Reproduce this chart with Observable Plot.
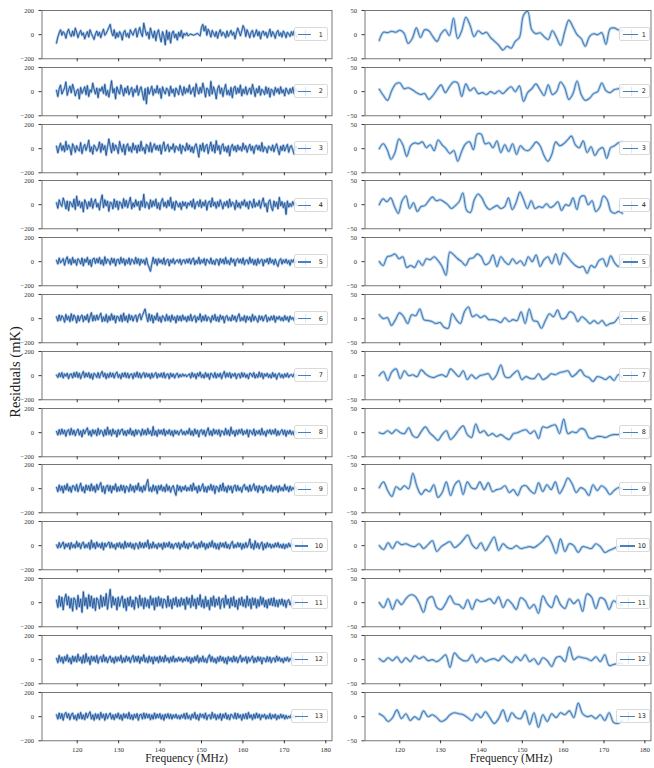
<!DOCTYPE html>
<html><head><meta charset="utf-8">
<script src="https://cdn.jsdelivr.net/npm/d3@7"></script>
<script src="https://cdn.jsdelivr.net/npm/@observablehq/plot@0.6"></script>
<style>
body{margin:0;background:#fff;}
#c{position:relative;width:654px;height:768px;overflow:hidden;font-family:"Liberation Serif","DejaVu Serif",serif;background:#fff;}
.pan{position:absolute;}
.leg{position:absolute;border:1px solid #dadada;border-radius:2px;background:rgba(255,255,255,0.85);box-sizing:border-box;}
.leg .ln{position:absolute;height:1.2px;}
.leg .eb{position:absolute;width:0.7px;background:#dde8f4;}
.leg .nm{position:absolute;font-family:"DejaVu Sans",sans-serif;font-size:6.5px;color:#222;}
.ttl{position:absolute;color:#222;white-space:nowrap;}
</style></head><body><div id="c"></div><script>
// ---- axis ticks and labels ----
const xTicks = [120, 130, 140, 150, 160, 170, 180];
const leftYTicks = [-200, 0, 200];
const rightYTicks = [-50, 0, 50];
const runLabels = ["1","2","3","4","5","6","7","8","9","10","11","12","13"];
const freqStart = 115, freqEndLeft = 173, freqEndRight = 174.5;

// ---- left column residuals (mK), full resolution ----
const left1 = [-70,-20,15,40,-5,25,10,-30,20,45,5,-15,30,-10,55,20,-25,10,35,-5,
15,-35,0,25,-20,40,10,-15,-40,5,30,-10,20,-25,15,45,-5,10,35,60,
85,20,-10,40,-30,15,-20,25,5,-45,20,35,-15,10,-25,40,15,-5,30,50,
-20,25,60,10,-15,95,40,-5,20,-35,55,10,-25,30,-50,15,40,-20,-60,25,
-10,-85,35,-40,20,-70,10,30,-25,5,-45,20,-15,35,-30,10,-5,15,-10,0,
5,0,-5,0,5,10,0,-10,60,85,30,70,-5,45,20,-20,35,10,-15,25,
-30,15,40,-10,20,5,-25,30,-15,10,35,-5,20,-35,15,55,25,-10,30,75,
50,-15,40,10,-25,20,35,-20,5,40,-10,25,-35,15,30,-5,20,-25,10,45,
-15,25,5,-30,20,35,-10,15,-20,30,10,-25,20,5,-15,25,-5,30,10,-20];
const left2 = [10,-40,25,55,-20,5,30,80,-30,15,45,-10,60,20,-35,5,20,-60,35,-15,
10,40,-25,50,-40,15,-5,70,20,-20,30,-50,25,5,40,-15,60,-30,10,-45,
20,90,-10,25,-60,40,5,-20,55,15,-35,30,-10,45,-25,10,35,-40,20,-5,
50,-30,15,40,-15,-70,25,-100,35,-20,10,45,-30,20,-10,50,-15,25,-55,40,
5,-20,30,15,-35,45,-10,20,-40,30,5,-25,50,10,-30,40,-15,25,-5,55,
-20,10,35,-40,65,15,-20,35,-10,70,20,-45,30,15,-35,85,-20,40,5,-60,
25,50,-15,30,-40,20,60,-25,10,-30,35,-50,25,45,-20,30,-10,55,-35,20,
-15,40,-25,10,30,-20,60,15,-40,25,-10,45,-30,20,5,-25,40,-15,30,-45,
20,10,-30,35,-5,25,-20,40,-10,15,-35,30,5,-20,25,-10,35,-15,20,5];
const left3 = [20,-35,10,45,-15,25,-25,60,-10,30,5,-50,40,15,-30,25,-5,-20,50,-40,
10,35,-15,20,70,-25,15,-45,30,10,-20,5,55,-30,40,-10,25,-55,15,80,
20,-35,45,-15,30,5,-40,60,10,-25,35,-50,20,40,-20,15,-30,45,-10,25,
-35,30,-20,60,-15,10,-40,35,20,-25,50,-30,15,40,-10,25,-15,30,-45,20,
55,-20,10,35,-25,15,-5,40,-30,20,10,-15,35,-40,25,5,-20,45,-10,30,
-25,15,-35,20,40,-10,-70,30,-15,45,-25,20,35,-40,10,55,-20,30,-35,65,
-10,25,-45,20,40,-20,15,-30,25,-60,10,35,-15,20,-25,30,-10,15,-20,45,
-5,25,-30,10,35,-15,20,-40,15,30,-10,25,-20,50,-25,15,5,-35,20,10,
-15,30,-25,15,40,-10,-50,20,-15,30,-20,10,35,-30,15,25,-10,-45,20,5];
const left4 = [15,-30,40,5,-15,55,20,-35,30,-50,25,10,-20,45,-40,70,-10,30,-25,20,
-60,40,15,-35,25,-15,50,-30,20,45,-20,10,-45,35,80,-25,40,-10,30,-55,
20,15,-35,45,-20,30,-40,25,10,-30,50,-15,35,-25,20,60,-35,15,-20,40,
-10,25,-45,30,-15,85,-25,20,10,-35,40,-20,30,-10,45,-30,15,-40,25,50,
-15,20,-25,35,-10,60,-30,20,-45,30,5,-20,15,-40,25,-10,20,-30,15,-5,
30,-20,45,-35,10,25,-15,40,-25,20,-10,35,-45,15,30,-20,55,-10,20,-30,
25,-15,40,5,-35,20,-10,30,-25,45,-15,20,10,-40,35,-20,15,-30,25,-5,
40,-15,20,-35,30,10,-25,45,-20,15,-10,35,-30,20,55,-15,10,-60,25,40,
-20,-50,30,-15,20,-35,60,-10,25,-25,15,-80,30,-20,10,-15,25,-5,15,-10];
const left5 = [10,-20,30,-10,5,25,-30,15,40,-15,20,-25,35,-10,15,-30,25,10,-20,30,
-35,20,-5,35,-25,15,-40,20,30,-15,25,-10,35,-20,15,-30,40,-15,20,10,
-25,30,-10,25,-35,15,20,-20,35,-10,25,-30,15,-15,30,-25,20,10,-20,35,
-15,25,-30,20,-10,15,-25,30,-20,-50,-80,-20,35,-15,20,-30,25,-10,15,-20,
30,-25,10,20,-35,15,-10,25,-20,5,15,-10,20,-25,10,15,-15,20,-10,25,
-20,15,30,-25,10,-15,35,-20,15,-10,25,-30,20,5,-15,30,-20,10,-25,20,
15,-30,25,-10,20,-20,35,-15,10,-25,30,-5,20,-35,15,25,-10,20,-15,30,
-25,10,15,-20,35,-10,20,-25,15,-30,25,-15,10,20,-35,15,-5,25,-20,30,
-10,15,-25,20,-15,-40,10,25,-20,15,-10,20,-15,10,-30,15,-5,20,-10,5];
const left6 = [15,-20,30,-15,25,10,-30,35,-10,20,-25,40,-15,30,10,-35,25,-20,15,30,
-25,20,-10,35,-30,15,50,-20,25,-15,30,-10,20,45,-25,15,-20,35,-30,20,
-15,40,-10,25,-35,20,15,-20,30,-25,45,-15,20,-30,35,-10,25,-20,15,30,
-25,20,40,-10,25,55,80,20,-25,40,-15,30,-35,20,-10,45,-20,15,-30,25,
10,-20,35,-15,20,-25,30,-10,15,-35,25,-15,20,-20,30,-10,15,-25,20,-15,
35,-20,10,25,-30,15,-10,40,-25,20,-15,30,-20,15,5,-30,25,-10,35,-20,
15,-25,30,-5,20,-35,15,25,-15,10,-20,30,-10,20,-25,15,40,-20,10,-15,
25,-30,20,-10,15,-25,35,-15,20,-5,-30,25,-10,20,-20,15,30,-25,10,-15,
20,-10,25,-30,15,-5,20,-15,10,-20,25,-10,15,-25,20,-5,10,-15,5,-5];
const left7 = [5,-15,20,-10,25,-20,15,-5,20,-25,10,15,-20,25,-10,30,-15,20,-25,10,
35,-15,20,-10,25,-20,15,-30,20,10,-15,25,-20,15,35,-10,20,-25,15,-15,
25,-10,20,-20,15,30,-15,10,-25,20,-10,25,-15,20,-20,10,15,-25,20,-10,
30,-15,20,-20,10,25,-15,20,-10,15,-25,20,-15,10,25,-20,15,-10,20,-15,
25,-20,10,15,-25,20,-10,15,-20,10,20,-15,10,-10,15,-5,10,-10,5,15,
-20,25,-10,15,-25,20,-5,30,-15,10,-20,25,-10,15,-30,20,10,-15,25,-20,
15,-10,20,-25,10,35,-15,20,-10,25,-20,15,-5,20,-25,10,15,-20,25,-10,
20,-15,10,-25,20,15,-10,25,-20,10,-15,30,-10,20,-25,15,-5,20,-15,10,
-20,25,-10,15,-30,10,20,-15,10,-20,15,-10,20,-15,5,10,-10,15,-5,0];
const left8 = [10,-20,25,-15,30,-10,20,-30,15,25,-20,35,-15,20,-25,10,30,-20,15,-35,
25,-10,20,40,-20,15,-30,25,-10,20,-25,35,-15,20,10,-30,25,-20,45,-15,
20,-25,30,-10,15,-35,25,-15,20,30,-20,15,-25,20,-10,35,-20,15,-30,25,
-15,20,10,-25,30,-15,20,-20,35,-10,15,-25,50,-20,15,-30,25,-10,20,-15,
30,-25,15,-10,25,-20,15,-30,20,-10,15,-20,10,25,-15,10,-20,15,-10,35,
-20,15,-25,30,-10,20,-35,15,25,-15,20,-30,10,40,-20,15,-25,30,-10,20,
-15,25,-30,15,10,-20,35,-15,20,-25,45,-10,15,-30,20,-15,25,-5,30,-20,
15,-10,25,-35,20,10,-15,30,-25,15,-10,20,-20,35,-15,10,-30,20,-5,25,
-15,20,-10,30,-25,15,-20,10,25,-15,20,-30,15,-10,20,-15,10,-20,15,-5];
const left9 = [10,-25,30,-15,20,-35,25,-10,40,-20,15,-30,25,20,-15,35,-25,10,45,-20,
15,-35,30,-10,25,-20,40,-15,20,-30,35,-10,25,50,-25,20,-40,15,30,-20,
25,-35,20,-10,40,-25,15,-20,30,-15,25,-35,20,10,-25,35,-15,20,-30,25,
-10,45,-20,15,-30,25,-15,40,75,-20,10,-25,30,-15,20,-40,25,-10,30,-20,
15,-25,35,-15,20,-30,10,25,-20,-55,30,-15,20,-25,15,-10,25,-20,10,-15,
30,-20,45,-10,15,-35,25,-20,10,40,-25,15,-30,20,-10,35,-15,25,-40,20,
10,-25,30,-15,45,-20,15,-30,25,-10,20,-35,15,30,-20,25,-15,10,-30,20,
35,-10,15,-25,30,-20,10,40,-15,20,-30,25,-10,15,-35,20,25,-15,10,-20,
30,-25,15,-10,20,-30,25,-15,10,-20,35,-10,15,-25,20,-15,10,-5,15,-10];
const left10 = [5,-20,25,-15,10,30,-25,15,-10,20,-30,25,-15,10,-20,35,-10,20,-25,15,
30,-20,10,-15,25,-30,45,-15,20,-25,30,-10,15,-20,25,-35,20,-10,15,30,
-20,25,-15,10,-30,20,-10,25,-20,15,-25,35,-15,20,-10,25,-20,15,-30,20,
10,-25,30,-15,20,-20,25,-10,45,-25,15,-20,30,-15,10,-25,20,-10,15,-30,
25,-15,20,-10,30,-20,15,-25,10,20,-15,25,-30,15,-10,35,-20,15,-25,20,
-10,15,30,-20,10,-25,20,-15,35,-10,20,-30,15,-20,25,-10,40,-15,20,-25,
15,-30,25,-10,20,-15,30,-20,10,-25,15,35,-20,10,-15,25,-10,20,-30,15,
-20,25,-15,10,55,-20,15,-30,40,-15,20,-25,10,30,-35,15,-20,25,-10,15,
-20,10,-15,20,-10,25,-15,10,-20,15,-25,10,-15,20,-10,15,-5,10,-10,5];
const left11 = [20,-40,55,-30,45,-60,30,70,-20,50,-45,35,-70,40,20,-55,60,-35,30,-80,
90,-25,40,-50,65,-30,55,-45,35,-65,40,20,-50,60,-35,45,-25,75,-55,30,
110,-40,50,-20,35,-60,45,-30,25,55,-40,30,-65,40,-25,50,-35,20,-55,45,
30,-40,60,-25,35,-50,40,-30,25,-45,55,-20,35,-60,40,-30,50,-25,35,-45,
30,20,-40,55,-30,25,-50,35,-20,45,-35,25,-30,40,-20,30,-55,45,-15,35,
-40,60,-25,30,-50,40,-20,65,-35,25,-45,50,-30,20,-60,40,-25,55,-35,30,
-20,45,-50,25,35,-40,60,-15,30,-45,40,-25,50,-35,20,-55,35,-20,45,-30,
25,-40,55,-25,30,-50,40,-20,35,-45,25,-30,50,-15,40,-35,20,-45,30,-20,
35,-25,40,-30,20,-35,25,-15,30,-25,20,-40,15,25,-20,10,-25,15,-10,5];
const left12 = [10,-25,35,-15,20,-30,25,-10,40,-20,15,-35,30,-15,25,-20,45,-10,20,-30,
35,-25,50,-15,20,-40,30,-10,25,-20,35,-30,15,25,-20,40,-15,20,-25,10,
30,-20,15,-30,25,-15,20,-10,35,-25,15,-20,30,-10,20,-25,15,35,-20,25,
-15,30,-30,20,-10,40,-20,15,-25,30,-15,20,-35,25,-10,20,-25,30,-15,20,
-20,35,-10,15,-25,20,-15,30,-20,10,-15,20,-10,15,-20,10,-10,25,-15,20,
-30,15,-20,25,-10,35,-25,15,-15,30,-20,10,-25,20,40,-15,25,-20,10,-30,
20,-15,30,-10,20,-25,15,-35,25,-10,15,-20,30,-15,20,-25,10,35,-20,15,
-10,25,-30,20,-15,10,30,-25,15,-20,25,-10,20,-35,15,10,-20,25,-15,20,
-25,10,15,-20,30,-10,20,-15,10,-25,15,-10,20,-15,10,-5,15,-10,5,0];
const left13 = [15,-20,30,-15,25,-30,20,35,-10,25,-25,15,30,-20,10,-30,25,-15,35,-20,
15,-25,30,-10,20,40,-20,15,-30,25,-15,20,-25,35,-10,20,-30,25,-15,10,
30,-20,15,-25,20,-10,30,-20,15,-30,25,-10,20,-15,35,-20,15,-25,20,-10,
25,-30,15,20,-20,30,-15,25,-10,20,-25,15,-20,30,-15,20,-10,25,-20,15,
-30,20,-10,25,-15,20,-20,15,-10,20,-15,10,-20,15,-10,25,-20,30,-15,10,
-25,20,-10,35,-20,15,-30,25,-5,20,-15,30,-25,10,15,-20,35,-10,20,-25,
15,-15,25,-30,20,-10,30,-20,15,-25,20,10,-15,30,-20,25,-10,15,-30,20,
-15,25,-20,35,-10,15,-25,20,-15,30,-10,20,-25,15,-5,20,-20,10,-15,25,
-20,15,-10,20,-25,10,-15,20,-10,15,-20,10,-15,5,-10,15,-5,10,-10,5];

// ---- right column residuals (mK), smoothed ----
const right1 = [-12,5,4,7,5,9,3,-18,-8,14,-6,10,8,-4,-14,2,10,-2,34,-8,8,36,20,-4,8,2,5,-6,-14,-22,-32,-24,-28,-14,-6,40,48,10,2,4,-4,-10,8,-6,-22,6,30,16,0,-8,-24,-4,2,0,4,-20,12,14,10,8];
const right2 = [5,-8,-18,2,16,18,6,8,4,-2,-6,-4,-16,-8,4,14,-2,10,20,18,-10,16,2,8,-4,-2,-6,0,-4,2,-4,4,10,0,12,-20,-2,6,16,4,-8,14,-6,0,20,8,-16,-4,22,-6,-18,-14,-4,0,18,2,-2,4,6,8];
const right3 = [0,10,-2,-22,-8,20,8,-16,6,12,10,14,2,8,-4,18,8,0,-10,-4,-26,-6,10,14,-2,30,30,10,12,2,16,-8,8,-6,10,-12,6,-2,-4,4,14,6,-14,-26,-12,14,6,10,18,26,8,2,16,-8,4,-14,-2,2,-20,2,6,12,14];
const right4 = [0,12,6,14,-4,-18,8,18,-8,4,-14,-4,-2,8,16,8,10,6,0,-8,-2,6,24,-12,-16,10,22,14,-2,-10,-6,-2,-8,-4,14,-10,4,26,10,-8,8,-8,-4,-6,2,-6,-2,6,-12,0,-2,14,-10,16,18,0,8,-14,-6,18,10,-14,-18,-14,-18];
const right5 = [0,-8,10,12,16,6,10,-12,-8,-12,2,-8,6,4,10,2,-10,-28,20,14,6,0,-8,6,8,16,10,-6,-2,14,-10,10,0,-6,6,-4,2,-8,10,0,14,-10,4,10,-4,16,-6,18,10,0,-8,-12,-10,-24,-8,-12,2,6,-10,12,-2,-10,6];
const right6 = [8,0,2,-14,-2,12,4,-10,8,6,20,-2,-4,-6,-10,-8,-18,-20,10,-2,-10,14,24,4,8,2,6,-2,-2,-4,-8,2,-6,-2,-4,14,-10,20,-4,-6,-20,-4,10,4,18,0,2,14,10,-6,4,-2,-10,-4,-10,-4,-14,-10,-8,2,6];
const right7 = [0,8,-10,8,14,-6,10,0,2,-2,12,4,-2,-4,0,2,-2,14,6,-2,10,-8,2,-6,0,2,4,-8,2,22,-2,-4,4,10,-8,-2,-6,-6,4,-8,-4,4,2,6,8,10,-2,4,12,0,-4,-12,-2,-4,-8,-2,-10,2,-4];
const right8 = [0,-2,4,-2,6,0,-2,10,-6,-10,2,12,0,-8,-16,-4,4,-14,-6,6,14,-4,-10,18,0,4,-6,-2,-8,-4,-10,-14,-2,0,4,6,-2,4,-12,12,10,14,16,-2,28,-2,2,0,8,6,-10,-12,-8,-8,-10,-6,-4,-4,0];
const right9 = [2,14,-4,-16,4,-2,6,0,32,4,-12,-2,-6,8,-18,-8,14,-14,8,16,-12,14,2,0,14,-2,12,-6,-2,0,6,-8,-2,-14,4,6,-4,-10,12,-6,8,-2,14,-10,4,22,10,-8,2,-2,-14,8,-4,6,0,-12,-4,2,0];
const right10 = [0,-8,6,-6,8,2,4,0,-2,4,-6,2,10,-12,-2,4,8,-4,2,12,22,2,-6,6,-10,4,18,-10,4,-4,-6,0,-6,-4,-2,-4,2,10,20,6,-16,14,-12,4,0,-14,-2,-4,-6,4,-2,-14,-10,-6,-2,0];
const right11 = [0,-10,8,-14,6,-4,8,16,14,0,-20,8,12,-10,-14,-2,14,-2,-4,-12,6,-14,6,2,4,8,-2,12,-10,6,-2,-14,10,4,-12,-4,-22,14,-2,-10,14,-4,-12,8,-2,6,-18,18,12,-12,10,6,-14,4,-2,-6];
const right12 = [2,-4,4,-2,6,-6,4,-4,8,2,6,-2,0,-4,2,10,-16,14,4,-2,-2,10,-6,4,-4,0,2,-2,8,0,-6,6,-2,10,-4,2,-10,4,-2,-14,4,6,-4,26,0,6,4,2,-2,6,-4,10,-12,-10,-8,-8];
const right13 = [6,0,-10,-2,14,-4,6,-8,0,-6,12,0,4,-2,-10,-6,4,8,6,4,-2,-8,6,-2,10,-2,-14,-4,14,-10,8,-2,-4,12,-16,8,-22,4,-10,6,-2,8,4,12,-2,28,6,0,2,-4,4,-8,8,-12,-14,-8];

const leftSeries = [left1,left2,left3,left4,left5,left6,left7,left8,left9,left10,left11,left12,left13];
const rightSeries = [right1,right2,right3,right4,right5,right6,right7,right8,right9,right10,right11,right12,right13];

// ---- layout ----
const root = document.getElementById("c");
const top0 = 10, pitch = 56.8, PH = 48.3, MT = 6, MB = 16;
const fmt = d => d < 0 ? "\u2212" + Math.abs(d) : String(d);
const cols = [
  {svgLeft: 0, width: 334, ml: 41.5, mr: 2.5, domain: [-200, 200], ticks: leftYTicks, series: leftSeries,
   xEnd: freqEndLeft, stroke: "#1f4d8c", halo: "#9fc1e6", sw: 0.85, hw: 2.4, curve: "linear",
   legStroke: "#4a7fc0", legLeft: 294, legW: 34, lineW: 13, numRight: 4},
  {svgLeft: 330, width: 324, ml: 34.5, mr: 3.5, domain: [-50, 50], ticks: rightYTicks, series: rightSeries,
   xEnd: freqEndRight, stroke: "#4a80b8", halo: "#bcd6ee", sw: 1.1, hw: 3, curve: "catmull-rom",
   legStroke: "#4a80b8", legLeft: 619, legW: 31, lineW: 15, numRight: 3}
];

cols.forEach((col, ci) => {
  col.series.forEach((vals, ri) => {
    const n = vals.length;
    const data = vals.map((v, i) => ({x: freqStart + i * (col.xEnd - freqStart) / (n - 1), y: v}));
    const last = ri === 12;
    const plot = Plot.plot({
      width: col.width, height: MT + PH + MB,
      marginLeft: col.ml, marginRight: col.mr, marginTop: MT, marginBottom: MB,
      style: {background: "transparent", overflow: "visible", fontFamily: "'Liberation Serif','DejaVu Serif',serif", color: "#333"},
      x: {domain: [111.5, 181.5]},
      y: {domain: col.domain},
      marks: [
        Plot.line(data, {x: "x", y: "y", stroke: col.halo, strokeWidth: col.hw, curve: col.curve, clip: true}),
        Plot.line(data, {x: "x", y: "y", stroke: col.stroke, strokeWidth: col.sw, curve: col.curve, clip: true}),
        Plot.frame({stroke: "#555", strokeWidth: 0.8}),
        Plot.axisY({ticks: col.ticks, tickSize: 3, tickPadding: 5, tickFormat: fmt, fontSize: 6.5, label: null}),
        Plot.axisX({ticks: xTicks, tickSize: 3, tickPadding: 3, tickFormat: last ? fmt : () => "", fontSize: 7, label: null})
      ]
    });
    const wrap = document.createElement("div");
    wrap.className = "pan";
    wrap.style.left = col.svgLeft + "px";
    wrap.style.top = (top0 + ri * pitch - MT) + "px";
    wrap.appendChild(plot);
    root.appendChild(wrap);

    // legend
    const cy = top0 + ri * pitch + PH / 2;
    const leg = document.createElement("div");
    leg.className = "leg";
    const extra = (runLabels[ri].length > 1) ? 3 : 0;
    leg.style.left = (col.legLeft - extra) + "px";
    leg.style.width = (col.legW + extra) + "px";
    leg.style.top = (cy - 7) + "px";
    leg.style.height = "14px";
    const eb = document.createElement("div");
    eb.className = "eb"; eb.style.left = (3 + col.lineW / 2) + "px"; eb.style.top = "2px"; eb.style.height = "9px";
    const ln = document.createElement("div");
    ln.className = "ln"; ln.style.left = "3px"; ln.style.width = col.lineW + "px"; ln.style.top = "6px";
    ln.style.background = col.legStroke;
    const nm = document.createElement("div");
    nm.className = "nm"; nm.textContent = runLabels[ri];
    nm.style.right = col.numRight + "px"; nm.style.top = "2.5px";
    leg.appendChild(eb); leg.appendChild(ln); leg.appendChild(nm);
    root.appendChild(leg);
  });
});

// titles
const yt = document.createElement("div");
yt.className = "ttl"; yt.textContent = "Residuals (mK)";
yt.style.fontSize = "14.5px";
yt.style.left = "15px"; yt.style.top = "372px";
yt.style.transform = "translate(-50%,-50%) rotate(-90deg)";
root.appendChild(yt);
[[186.5], [511]].forEach(([cx]) => {
  const t = document.createElement("div");
  t.className = "ttl"; t.textContent = "Frequency (MHz)";
  t.style.fontSize = "11.5px";
  t.style.left = cx + "px"; t.style.top = "758px";
  t.style.transform = "translate(-50%,-50%)";
  root.appendChild(t);
});
</script></body></html>
